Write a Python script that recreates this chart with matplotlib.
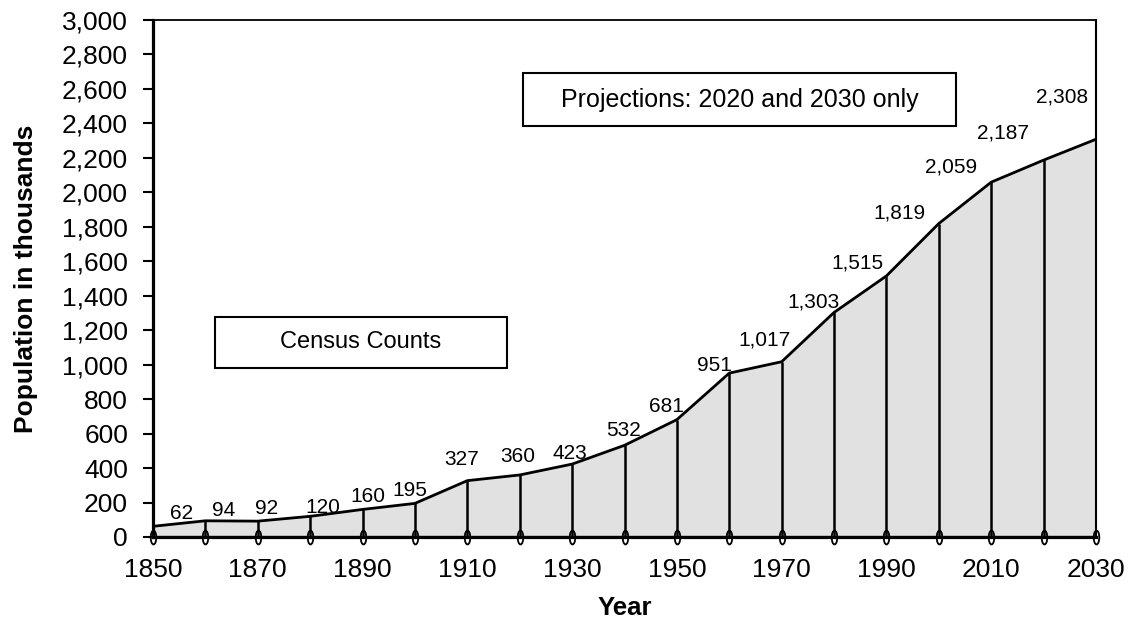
import numpy as np
import matplotlib.pyplot as plt
from matplotlib.path import Path
from matplotlib.transforms import Affine2D, offset_copy

plt.rcParams['font.family'] = ['Liberation Sans', 'DejaVu Sans']

# Data
years = [1850, 1860, 1870, 1880, 1890, 1900, 1910, 1920, 1930, 1940,
         1950, 1960, 1970, 1980, 1990, 2000, 2010, 2020, 2030]
population = [62, 94, 92, 120, 160, 195, 327, 360, 423, 532,
              681, 951, 1017, 1303, 1515, 1819, 2059, 2187, 2308]
x_ticks = [1850, 1870, 1890, 1910, 1930, 1950, 1970, 1990, 2010, 2030]
y_ticks = list(range(0, 3001, 200))

# label offsets from each point (pixels: right, up)
label_dx = [29, 18, 9, 13, 5, -5, -6, -2, -2, -1, -10, -15, -17, -21, -29, -39, -40, -41, -34]
label_dy = [13, 10, 13, 9, 13, 13, 21, 18, 11, 15, 13, 8, 22, 10, 13, 11, 15, 27, 42]

fig = plt.figure(figsize=(11.29, 6.22), dpi=100)
ax = fig.add_axes([153 / 1129, 1 - 537 / 622, (1096 - 153) / 1129, (537 - 20) / 622])

ax.fill_between(years, population, 0, color='#e1e1e1', zorder=1)
ax.plot(years, population, color='black', lw=2.0, zorder=3)
ax.vlines(years, 0, population, color='black', lw=1.8, zorder=2)

# small oval marks on the x axis at each decade
oval = Path.unit_circle().transformed(Affine2D().scale(0.4, 1.0))
ax.plot(years, [0] * len(years), linestyle='none', marker=oval, markersize=10,
        markerfacecolor='none', markeredgecolor='black', markeredgewidth=1.3,
        clip_on=False, zorder=4)
ax.axhline(0, color='black', lw=2.3, zorder=4)

for x, y, dx, dy in zip(years, population, label_dx, label_dy):
    tr = offset_copy(ax.transData, fig=fig, x=dx, y=dy, units='dots')
    ax.text(x, y, f'{y:,}', transform=tr, ha='center', va='center', fontsize=15)

ax.set_xlim(1850, 2030)
ax.set_ylim(0, 3000)
ax.set_xticks(x_ticks)
ax.set_xticklabels([str(t) for t in x_ticks])
ax.set_yticks(y_ticks)
ax.set_yticklabels([f'{t:,}' for t in y_ticks])
ax.tick_params(axis='y', direction='out', length=7, width=1.5, labelsize=19, pad=11)
ax.tick_params(axis='x', length=0, labelsize=19, pad=15)

ax.spines['left'].set_linewidth(2.3)
ax.spines['bottom'].set_linewidth(2.3)
ax.spines['top'].set_linewidth(1.3)
ax.spines['right'].set_linewidth(1.5)

ax.set_xlabel('Year', fontsize=18.5, fontweight='bold', labelpad=10)
ax.set_ylabel('Population in thousands', fontsize=19, fontweight='bold', labelpad=17)

# annotation boxes
fig.text((215 + 507) / 2 / 1129, 1 - (317 + 368) / 2 / 622, 'Census Counts',
         ha='center', va='center', fontsize=17)
fig.patches.append(plt.Rectangle((215 / 1129, 1 - 368 / 622), (507 - 215) / 1129, (368 - 317) / 622,
                                 transform=fig.transFigure, fill=False, edgecolor='black', lw=1.5))
fig.text((523 + 956) / 2 / 1129, 1 - (73 + 126) / 2 / 622, 'Projections: 2020 and 2030 only',
         ha='center', va='center', fontsize=18)
fig.patches.append(plt.Rectangle((523 / 1129, 1 - 126 / 622), (956 - 523) / 1129, (126 - 73) / 622,
                                 transform=fig.transFigure, fill=False, edgecolor='black', lw=1.5))

fig.savefig('out.png', dpi=100)
